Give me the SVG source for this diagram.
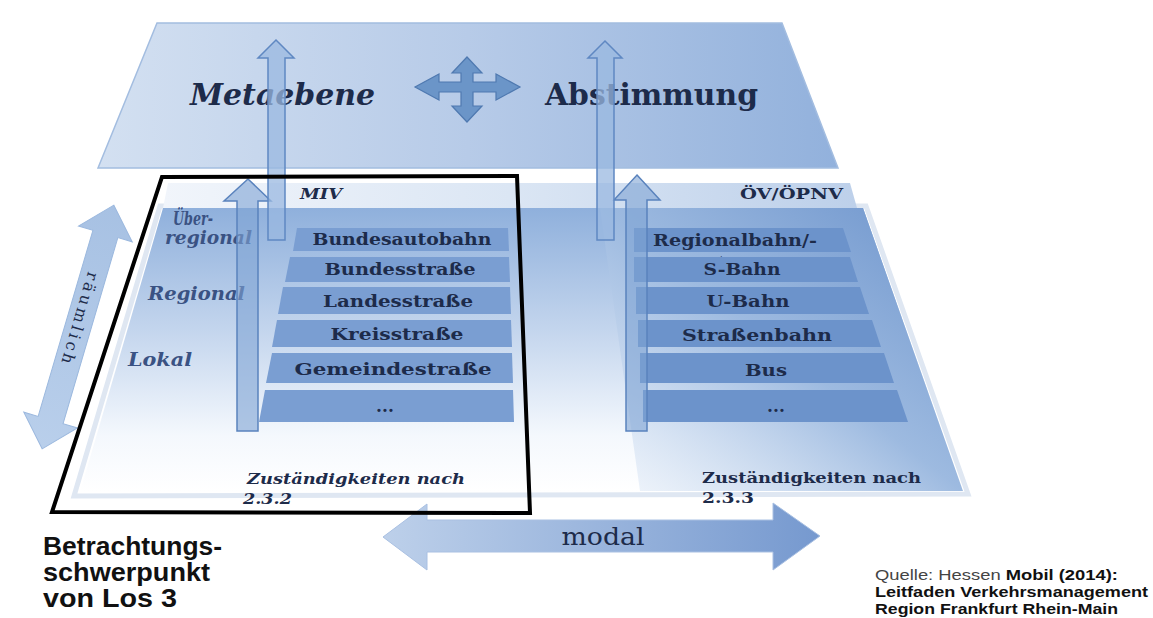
<svg xmlns="http://www.w3.org/2000/svg" width="1153" height="618" viewBox="0 0 1153 618">
<style>
.serif{font-family:"DejaVu Serif","Liberation Serif",serif;fill:#1d2b4a}
.row{font-size:17px;font-weight:bold;text-anchor:middle}
.lvl{font-size:18px;font-weight:bold;font-style:italic;fill:#3a5283}
.zust{font-size:15px;font-weight:bold}
.sans{font-family:"Liberation Sans",Arial,sans-serif}
.bar{fill:#7a9ed2}
.ovbar{fill:#6c93cb}
.arr{fill:#7fa3d4;fill-opacity:0.6;stroke:#5a83bd;stroke-width:1.5}
.longarr{fill:#9ab8e0;fill-opacity:0.75;stroke:#5f88c2;stroke-width:1.5}
</style>
<defs>
<linearGradient id="gTop" x1="0" y1="0" x2="1" y2="0">
<stop offset="0" stop-color="#d3e0f1"/><stop offset="0.5" stop-color="#b7cbe8"/><stop offset="1" stop-color="#92b1dc"/>
</linearGradient>
<linearGradient id="gBase" x1="0" y1="0" x2="0" y2="1">
<stop offset="0" stop-color="#8fb0dc"/><stop offset="0.45" stop-color="#c6d7ee"/><stop offset="0.8" stop-color="#f4f8fd"/><stop offset="1" stop-color="#ffffff"/>
</linearGradient>
<linearGradient id="gOv" x1="1" y1="0" x2="0" y2="1">
<stop offset="0" stop-color="#6d94cc"/><stop offset="0.5" stop-color="#9dbae0"/><stop offset="1" stop-color="#eaf1fa" stop-opacity="0.6"/>
</linearGradient>
<linearGradient id="gBand" x1="0" y1="0" x2="1" y2="0">
<stop offset="0" stop-color="#f1f5fb"/><stop offset="0.5" stop-color="#dbe6f4"/><stop offset="1" stop-color="#bdd0ea"/>
</linearGradient>
<linearGradient id="gModal" x1="0" y1="0" x2="1" y2="0">
<stop offset="0" stop-color="#bdd0ea"/><stop offset="1" stop-color="#7699cf"/>
</linearGradient>
<linearGradient id="gRaum" x1="0" y1="0" x2="1" y2="0">
<stop offset="0" stop-color="#a7c1e3"/><stop offset="1" stop-color="#b9cfeb"/>
</linearGradient>
</defs>
<rect width="1153" height="618" fill="#ffffff"/>

<g id="lower-plane">
<polygon points="160,206 866,206 968,494 74,496" fill="none" stroke="#dfe7f2" stroke-width="5"/>
<polygon points="168,183 850,183 857,208 163,208" fill="url(#gBand)"/>
<polygon points="163,208 863,208 963,491 80,492" fill="url(#gBase)"/>
<polygon points="600,208 863,208 963,491 640,491" fill="url(#gOv)"/>
<text class="serif" x="300" y="199" font-size="14" font-weight="bold" font-style="italic" textLength="42" lengthAdjust="spacingAndGlyphs">MIV</text>
<text class="serif" x="740" y="199" font-size="14" font-weight="bold" textLength="103" lengthAdjust="spacingAndGlyphs">ÖV/ÖPNV</text>
</g>

<g id="top-plane">
<polygon points="157,23 782,23 838,168 98,168" fill="url(#gTop)" stroke="#a3bde0" stroke-width="1.5"/>
<text class="serif" x="190" y="105" font-size="29" font-weight="bold" font-style="italic" textLength="185" lengthAdjust="spacingAndGlyphs">Metaebene</text>
<text class="serif" x="545" y="105" font-size="29" font-weight="bold" textLength="213" lengthAdjust="spacingAndGlyphs">Abstimmung</text>
</g>

<g id="levels">
<text class="serif lvl" x="173" y="225" textLength="40" lengthAdjust="spacingAndGlyphs">Über-</text>
<text class="serif lvl" x="165" y="244" textLength="87" lengthAdjust="spacingAndGlyphs">regional</text>
<text class="serif lvl" x="148" y="300" textLength="97" lengthAdjust="spacingAndGlyphs">Regional</text>
<text class="serif lvl" x="128" y="366" textLength="64" lengthAdjust="spacingAndGlyphs">Lokal</text>
</g>

<g id="miv-rows">
<polygon class="bar" points="297,228 508,228 509,251 293,251"/>
<polygon class="bar" points="290,257 509,257 510,282 285,282"/>
<polygon class="bar" points="283,287 510,287 511,314 278,314"/>
<polygon class="bar" points="277,320 511,320 512,347 272,347"/>
<polygon class="bar" points="272,353 512,353 513,383 266,383"/>
<polygon class="bar" points="265,390 513,390 514,422 259,422"/>
<text class="serif row" x="402" y="245" textLength="179" lengthAdjust="spacingAndGlyphs">Bundesautobahn</text>
<text class="serif row" x="400" y="275" textLength="151" lengthAdjust="spacingAndGlyphs">Bundesstraße</text>
<text class="serif row" x="398" y="307" textLength="150" lengthAdjust="spacingAndGlyphs">Landesstraße</text>
<text class="serif row" x="397" y="340" textLength="133" lengthAdjust="spacingAndGlyphs">Kreisstraße</text>
<text class="serif row" x="393" y="375" textLength="197" lengthAdjust="spacingAndGlyphs">Gemeindestraße</text>
<text class="serif row" x="385" y="412" font-size="12">...</text>
</g>

<g id="ov-rows">
<polygon class="ovbar" points="634,228 843,228 851,252 634,252"/>
<polygon class="ovbar" points="634,257 850,257 858,282 634,282"/>
<polygon class="ovbar" points="636,287 860,287 869,314 636,314"/>
<polygon class="ovbar" points="638,320 872,320 881,347 638,347"/>
<polygon class="ovbar" points="640,353 884,353 894,383 640,383"/>
<polygon class="ovbar" points="643,390 897,390 908,422 643,422"/>
<text class="serif row" x="735" y="246" textLength="164" lengthAdjust="spacingAndGlyphs">Regionalbahn/-</text>
<text class="serif" x="720" y="257" font-size="8">.</text>
<text class="serif row" x="742" y="275" textLength="77" lengthAdjust="spacingAndGlyphs">S-Bahn</text>
<text class="serif row" x="748" y="307" textLength="83" lengthAdjust="spacingAndGlyphs">U-Bahn</text>
<text class="serif row" x="757" y="341" textLength="150" lengthAdjust="spacingAndGlyphs">Straßenbahn</text>
<text class="serif row" x="766" y="376" textLength="42" lengthAdjust="spacingAndGlyphs">Bus</text>
<text class="serif row" x="776" y="412" font-size="12">...</text>
</g>

<g id="zustaendigkeiten">
<text class="serif zust" x="247" y="484" font-style="italic" textLength="218" lengthAdjust="spacingAndGlyphs">Zuständigkeiten nach</text>
<text class="serif zust" x="243" y="504" font-style="italic" textLength="49" lengthAdjust="spacingAndGlyphs">2.3.2</text>
<text class="serif zust" x="702" y="483" textLength="219" lengthAdjust="spacingAndGlyphs">Zuständigkeiten nach</text>
<text class="serif zust" x="702" y="503" textLength="52" lengthAdjust="spacingAndGlyphs">2.3.3</text>
</g>

<g id="connectors">
<polygon class="arr" points="248,179 271,201 258,201 258,431 237,431 237,201 224,201"/>
<polygon class="arr" points="637,175 660,200 647,200 647,431 626,431 626,200 614,200"/>
<polygon class="longarr" points="276,40 294,58 285,58 285,240 268,240 268,58 258,58"/>
<polygon class="longarr" points="605,41 622,58 614,58 614,240 597,240 597,58 588,58"/>
<polygon fill="#6b95c8" stroke="#4f79b0" stroke-width="1.2" points="467,57 482,73 473,73 473,82 496,82 496,74 520,87 496,100 496,92 473,92 473,106 482,106 467,122 452,106 461,106 461,92 439,92 439,100 415,87 439,74 439,82 461,82 461,73 452,73"/>
<g transform="translate(78,327) rotate(106.4)">
<polygon points="-127,0 -97,-28 -97,-13 97,-13 97,-28 127,0 97,28 97,13 -97,13 -97,28" fill="url(#gRaum)" stroke="#9bb8de" stroke-width="1"/>
</g>
<polygon points="383,537 427,504 427,520 773,520 773,503 820,536 773,570 773,552 427,552 427,570" fill="url(#gModal)" stroke="#a9c0e2" stroke-width="1"/>
</g>

<g id="axis-labels">
<text class="serif" transform="translate(80,318) rotate(106.4)" font-size="16" fill="#2d4670" text-anchor="middle" dominant-baseline="central" textLength="95">räumlich</text>
<text class="serif" x="603" y="545" font-size="25" fill="#2a3a5a" text-anchor="middle" textLength="83" lengthAdjust="spacingAndGlyphs">modal</text>
</g>

<g id="focus-frame">
<polygon points="162,177 517,176 530,513 52,512" fill="none" stroke="#000000" stroke-width="4" stroke-linejoin="miter"/>
</g>

<g id="focus-label" class="sans" font-size="25" font-weight="bold" fill="#111111">
<text x="43" y="555" textLength="179" lengthAdjust="spacingAndGlyphs">Betrachtungs-</text>
<text x="43" y="581" textLength="167" lengthAdjust="spacingAndGlyphs">schwerpunkt</text>
<text x="43" y="607" textLength="134" lengthAdjust="spacingAndGlyphs">von Los 3</text>
</g>

<g id="source" class="sans" font-size="15" fill="#111111">
<text x="875" y="580" textLength="243" lengthAdjust="spacingAndGlyphs"><tspan fill="#444444">Quelle: Hessen </tspan><tspan font-weight="bold">Mobil (2014):</tspan></text>
<text x="875" y="597" font-weight="bold" textLength="273" lengthAdjust="spacingAndGlyphs">Leitfaden Verkehrsmanagement</text>
<text x="875" y="614" font-weight="bold" textLength="243" lengthAdjust="spacingAndGlyphs">Region Frankfurt Rhein-Main</text>
</g>
</svg>
